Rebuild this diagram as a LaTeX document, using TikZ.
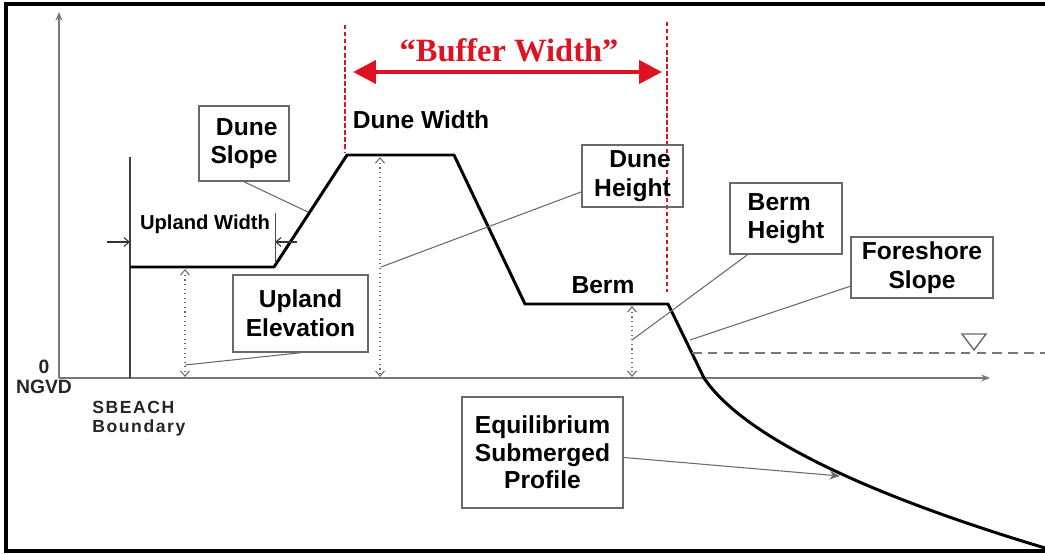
\documentclass[tikz,border=0pt]{standalone}
\usepackage{fontspec}
\setmainfont{Liberation Sans}
\newfontfamily\bufferfont{Liberation Serif}
\usepackage{xcolor}
\usetikzlibrary{arrows.meta,calc}
\definecolor{bufred}{RGB}{222,18,34}
\definecolor{edgegray}{RGB}{105,105,105}
\definecolor{axisgray}{RGB}{120,120,120}
\newcommand{\boxfont}{\fontsize{14}{16.3}\selectfont\bfseries}
\newcommand{\smallfont}{\fontsize{11}{13}\selectfont\bfseries}

\begin{document}
\begin{tikzpicture}[x=0.02cm, y=-0.02cm,
    >=Stealth,
    box/.style={draw=edgegray, line width=0.9pt, inner sep=0pt, font=\boxfont},
    lbl/.style={inner sep=0pt, font=\boxfont},
    axis/.style={draw=axisgray, line width=0.8pt, -{Stealth[length=5pt,width=4pt]}},
    prof/.style={line width=1.7pt, line join=round},
    lead/.style={draw=edgegray, line width=0.6pt},
    dim/.style={draw=edgegray, dotted, line width=0.6pt,
        {Straight Barb[length=3pt,width=5pt]}-{Straight Barb[length=3pt,width=5pt]}},
    uw/.style={draw=black!80, line width=0.6pt, -{Straight Barb[length=3pt,width=5pt]}},
    rdash/.style={draw=bufred, line width=1pt, dash pattern=on 2.5pt off 1.5pt},
]
\useasboundingbox (0,0) rectangle (1045,554);

% --- Frame ---
\draw[line width=2.2pt] (1050,4) -- (6,4) -- (6,551) -- (1050,551);

% --- Axes ---
\coordinate (org) at (59,378);
\coordinate (ytop) at (59,12);
\coordinate (xend) at (990,378);
\draw[axis] (org) -- (ytop);
\draw[axis] (org) -- (xend);
\node[inner sep=0pt, font=\smallfont, text=black!85, align=center] (ngvd) at (44,377) {0\\[-2pt]NGVD};

% --- SBEACH boundary ---
\coordinate (sbtop) at (130,157);
\coordinate (sbbot) at (130,378);
\draw[draw=black!75, line width=0.7pt] (sbtop) -- (sbbot);
\node[inner sep=0pt, font=\fontsize{10}{10.8}\selectfont\bfseries\addfontfeatures{LetterSpace=9},
      text=black!85, align=left, anchor=north west] (sbeach) at (92,401) {SBEACH\\Boundary};

% --- Beach profile ---
\coordinate (bnd) at (130,267);
\coordinate (toe) at (274,267);
\coordinate (crl) at (347,155);
\coordinate (crr) at (454,155);
\coordinate (bml) at (525,304);
\coordinate (bmr) at (668,304);
\coordinate (shore) at (704,378);
\coordinate (offsh) at (1045,548);
\draw[prof] (bnd) -- (toe) -- (crl) -- (crr) -- (bml) -- (bmr) -- (shore)
    .. controls (739,430) and (845,488) .. (offsh);

% --- Water level ---
\coordinate (wl) at (692,353);
\coordinate (wr) at (1045,353);
\draw[draw=axisgray, line width=0.8pt, dash pattern=on 5.5pt off 3.5pt] (wl) -- (wr);
\draw[draw=edgegray, line width=0.8pt] (962,334) -- (986,334) -- (974,350) -- cycle;

% --- Buffer width ---
\coordinate (rl1) at (345,25);
\coordinate (rl2) at (345,152);
\coordinate (rr1) at (667,22);
\coordinate (rr2) at (667,292);
\draw[rdash] (rl1) -- (rl2);
\draw[rdash] (rr1) -- (rr2);
\coordinate (bwl) at (353,72);
\coordinate (bwr) at (662,72);
\draw[draw=bufred, line width=2.3pt, {Triangle[length=13pt,width=13pt]}-{Triangle[length=13pt,width=13pt]}] (bwl) -- (bwr);
\node[inner sep=0pt, text=bufred, font=\bufferfont\fontsize{18.5}{21}\selectfont\bfseries] (buftxt) at (509,50) {“Buffer Width”};

% --- Plain labels ---
\node[lbl] (dwtxt) at (421,120) {Dune Width};
\node[lbl] (bermtxt) at (603,285) {Berm};
\node[lbl, font=\fontsize{11.5}{13}\selectfont\bfseries] (uwtxt) at (205,224) {Upland Width};

% Upland width dimension
\coordinate (uwl) at (107,242);
\coordinate (uwla) at (130,242);
\coordinate (uwr) at (297,242);
\coordinate (uwra) at (275,242);
\draw[uw] (uwl) -- (uwla);
\draw[uw] (uwr) -- (uwra);
\draw[draw=black!70, line width=0.5pt] (275,213) -- (275,263);

% --- Dimension lines ---
\draw[dim] (185,269) -- (185,377);
\draw[dim] (380,157) -- (380,377);
\draw[dim] (632,306) -- (632,377);

% --- Boxes ---
\node[box, minimum width=1.8cm, minimum height=1.5cm, align=right] (dsbox) at (244,143.5) {Dune\\Slope};
\node[box, minimum width=2.7cm, minimum height=1.54cm, align=center] (uebox) at (300.5,313.5) {Upland\\Elevation};
\node[box, minimum width=2.02cm, minimum height=1.24cm, align=right] (dhbox) at (632.5,176) {Dune\\Height};
\node[box, minimum width=2.24cm, minimum height=1.42cm, align=left] (bhbox) at (786,218.5) {Berm\\Height};
\node[box, minimum width=2.84cm, minimum height=1.22cm, align=center] (fsbox) at (922,267.5) {Foreshore\\Slope};
\node[box, minimum width=3.22cm, minimum height=2.22cm, align=center,
      font=\fontsize{14}{15.6}\selectfont\bfseries] (eqbox) at (542.5,452.5) {Equilibrium\\Submerged\\Profile};

% --- Leaders ---
\coordinate (dsl) at (308,212);
\coordinate (uel) at (185,365);
\coordinate (dhl) at (381,267);
\coordinate (bhl) at (632,340);
\coordinate (fsl) at (690,340);
\coordinate (eql) at (840,476);
\draw[lead] (dsbox.south) -- (dsl);
\draw[lead] (uebox.south) -- (uel);
\draw[lead] ($(dhbox.south west)!0.25!(dhbox.north west)$) -- (dhl);
\draw[lead] ($(bhbox.south west)!0.16!(bhbox.south east)$) -- (bhl);
\draw[lead] ($(fsbox.south west)!0.2!(fsbox.north west)$) -- (fsl);
\draw[lead, -{Stealth[length=6pt,width=5pt]}] ($(eqbox.east)+(0,5)$) -- (eql);

\end{tikzpicture}
\end{document}
